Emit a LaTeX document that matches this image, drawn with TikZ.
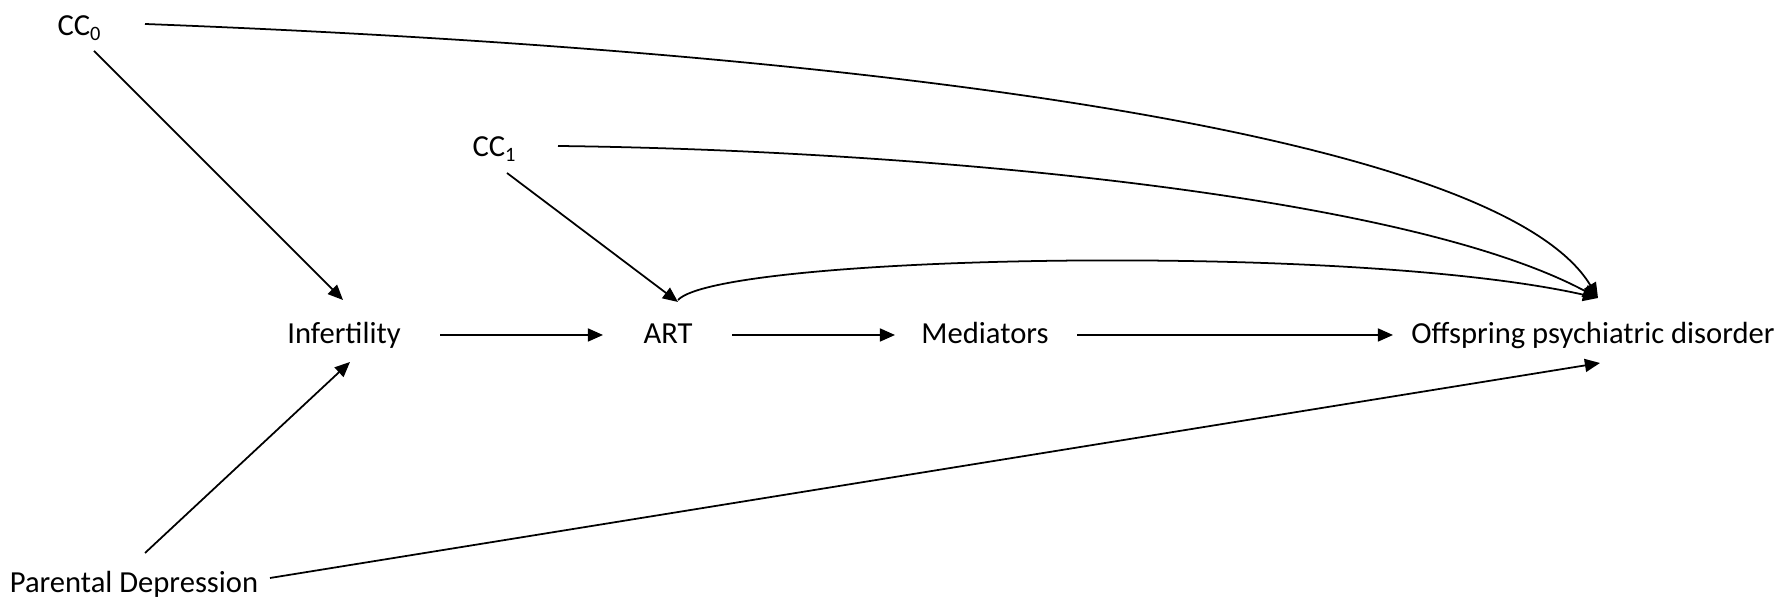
\documentclass[tikz,border=0pt]{standalone}
\usepackage{fontspec}
\setmainfont{Carlito}
\usetikzlibrary{arrows.meta}
\newcommand\subs[1]{\raisebox{-1.4pt}{\fontsize{5.8}{6}\selectfont #1}}
\begin{document}
\begin{tikzpicture}[x=0.01cm,y=-0.01cm,
  lbl/.style={inner sep=0pt, text height=6.5pt, text depth=1.8pt, font=\fontsize{8.7}{10}\selectfont},
  arr/.style={line width=0.5pt, -{Triangle[length=4.3pt,width=3.7pt]}}]
\useasboundingbox (0,0) rectangle (1784,598);
\node[lbl] (cc0) at (79,27) {CC\subs{0}};
\node[lbl] (cc1) at (494,148) {CC\subs{1}};
\node[lbl] (inf) at (344,335) {Infertility};
\node[lbl] (art) at (668,335) {ART};
\node[lbl] (med) at (985,335) {Mediators};
\node[lbl] (off) at (1593,335) {Offspring psychiatric disorder};
\node[lbl] (pd) at (134,584) {Parental Depression};
% straight arrows
\draw[arr] ([shift={(15,24)}]cc0.center) -- ([shift={(-1,-35)}]inf.center);
\draw[arr] ([shift={(11,-31)}]pd.center) -- ([shift={(6,27)}]inf.center);
\draw[arr] ([shift={(96,0)}]inf.center) -- ([shift={(-65,0)}]art.center);
\draw[arr] ([shift={(64,0)}]art.center) -- ([shift={(-90,0)}]med.center);
\draw[arr] ([shift={(92,0)}]med.center) -- ([shift={(-200,0)}]off.center);
\draw[arr] ([shift={(13,25)}]cc1.center) -- ([shift={(10,-33)}]art.center);
\draw[arr] ([shift={(136,-6)}]pd.center) -- ([shift={(7,28)}]off.center);
% curved arrows
\draw[arr] ([shift={(66,-3)}]cc0.center) .. controls (880,52) and (1500,135) .. ([shift={(5,-37)}]off.center);
\draw[arr] ([shift={(64,-2)}]cc1.center) .. controls (900,150) and (1400,192) .. ([shift={(5,-37)}]off.center);
\draw[arr] ([shift={(10,-35)}]art.center) .. controls (720,255) and (1350,242) .. ([shift={(5,-37)}]off.center);
\end{tikzpicture}
\end{document}
